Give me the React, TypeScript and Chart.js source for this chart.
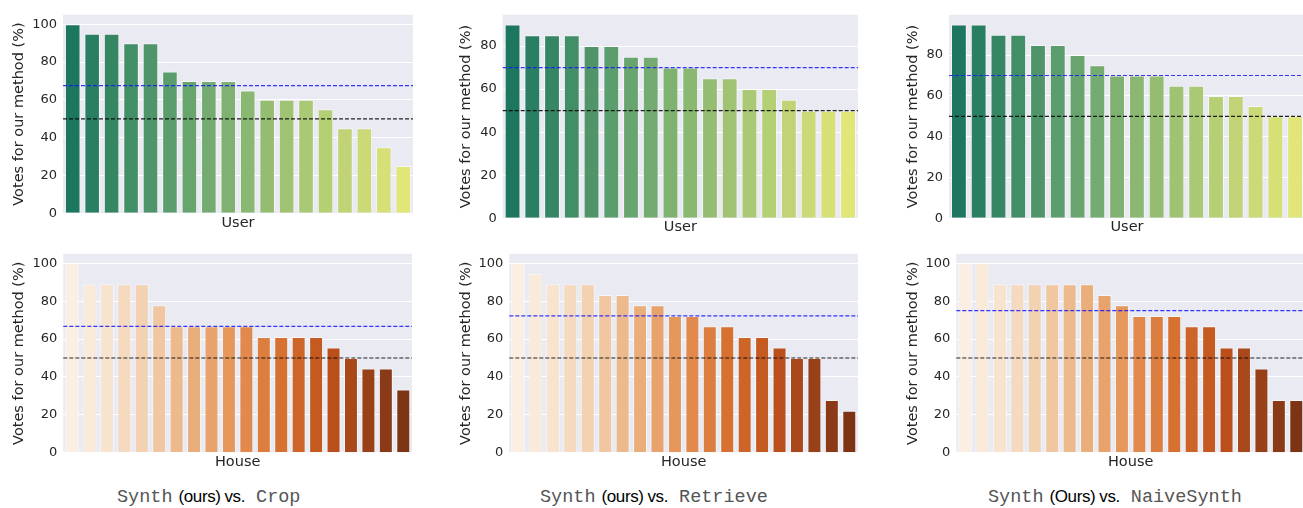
import React, { useEffect, useRef } from 'react';
import { Chart, registerables } from 'chart.js';

Chart.register(...registerables);

// ---------- data ----------
const userLabels = ['U1', 'U2', 'U3', 'U4', 'U5', 'U6', 'U7', 'U8', 'U9', 'U10', 'U11', 'U12', 'U13', 'U14', 'U15', 'U16', 'U17', 'U18'];
const houseLabels = ['H1', 'H2', 'H3', 'H4', 'H5', 'H6', 'H7', 'H8', 'H9', 'H10', 'H11', 'H12', 'H13', 'H14', 'H15', 'H16', 'H17', 'H18', 'H19', 'H20'];

const cropUser = [100, 95, 95, 90, 90, 75, 70, 70, 70, 65, 60, 60, 60, 55, 45, 45, 35, 25];
const retrieveUser = [90, 85, 85, 85, 80, 80, 75, 75, 70, 70, 65, 65, 60, 60, 55, 50, 50, 50];
const naiveUser = [95, 95, 90, 90, 85, 85, 80, 75, 70, 70, 70, 65, 65, 60, 60, 55, 50, 50];

const cropHouse = [100, 88.9, 88.9, 88.9, 88.9, 77.8, 66.7, 66.7, 66.7, 66.7, 66.7, 61.1, 61.1, 61.1, 61.1, 55.6, 50, 44.4, 44.4, 33.3];
const retrieveHouse = [100, 94.4, 88.9, 88.9, 88.9, 83.3, 83.3, 77.8, 77.8, 72.2, 72.2, 66.7, 66.7, 61.1, 61.1, 55.6, 50, 50, 27.8, 22.2];
const naiveHouse = [100, 100, 88.9, 88.9, 88.9, 88.9, 88.9, 88.9, 83.3, 77.8, 72.2, 72.2, 72.2, 66.7, 66.7, 55.6, 55.6, 44.4, 27.8, 27.8];

// median reference lines (blue) and chance line (black)
const medianValues = [67.5, 70, 70, 66.7, 72.2, 75];
const chanceValue = 50;

const yMaxValues = [105, 94.5, 99.75, 105, 105, 105];
const yTickValues = [0, 20, 40, 60, 80, 100];

const xTitles = ['User', 'User', 'User', 'House', 'House', 'House'];
const yTitle = 'Votes for our method (%)';

const captionMethods = ['Crop', 'Retrieve', 'NaiveSynth'];
const captionOurs = ['(ours)', '(ours)', '(Ours)'];

// ---------- colours ----------
const desat = (rgb: number[], prop: number) => {
  const mx = Math.max(...rgb);
  const mn = Math.min(...rgb);
  const l = (mx + mn) / 2;
  return rgb.map((c) => l + (c - l) * prop);
};
const toCss = (rgb: number[]) =>
  `rgb(${rgb.map((c) => Math.round(Math.max(0, Math.min(1, c)) * 255)).join(',')})`;

const summer = (t: number) => [t, 0.5 + 0.5 * t, 0.4];
const orangesStops = [
  [1.0, 0.9608, 0.9216],
  [0.9961, 0.902, 0.8078],
  [0.9922, 0.8157, 0.6353],
  [0.9922, 0.6824, 0.4196],
  [0.9922, 0.5529, 0.2353],
  [0.9451, 0.4118, 0.0745],
  [0.851, 0.2824, 0.0039],
  [0.651, 0.2118, 0.0118],
  [0.498, 0.1529, 0.0157],
];
const oranges = (t: number) => {
  const p = t * (orangesStops.length - 1);
  const i = Math.min(Math.floor(p), orangesStops.length - 2);
  const f = p - i;
  return orangesStops[i].map((c, k) => c + (orangesStops[i + 1][k] - c) * f);
};
const palette = (cmap: (t: number) => number[], n: number) => {
  const out: string[] = [];
  for (let i = 1; i <= n; i++) out.push(toCss(desat(cmap(i / (n + 1)), 0.75)));
  return out;
};

// ---------- layout (positions/sizes) ----------
const panelLayout = [
  { left: 11, top: 1, width: 402, height: 231, yW: 52, xH: 18.7 },
  { left: 458, top: 1, width: 400, height: 235, yW: 44.7, xH: 17.7 },
  { left: 905, top: 1, width: 400, height: 235, yW: 44, xH: 17.7 },
  { left: 11, top: 240, width: 401, height: 231, yW: 52.3, xH: 18.3 },
  { left: 458, top: 240, width: 400, height: 231, yW: 51.3, xH: 18.3 },
  { left: 905, top: 240, width: 400, height: 231, yW: 51.3, xH: 18.3 },
];
const captionLeft = [117, 540, 988];

const bgPlugin = {
  id: 'bgArea',
  beforeDraw(chart: any) {
    const { ctx, chartArea } = chart;
    ctx.save();
    ctx.fillStyle = '#EAEAF2';
    ctx.fillRect(chartArea.left, chartArea.top, chartArea.right - chartArea.left, chartArea.bottom - chartArea.top);
    ctx.restore();
  },
};

const refLinesPlugin = {
  id: 'refLines',
  afterDatasetsDraw(chart: any, _args: any, opts: any) {
    const { ctx, chartArea } = chart;
    const y = chart.scales.y;
    ctx.save();
    ctx.lineWidth = 1.2;
    ctx.setLineDash([4, 2]);
    for (const l of opts.lines || []) {
      const py = y.getPixelForValue(l.value);
      ctx.strokeStyle = l.color;
      ctx.beginPath();
      ctx.moveTo(chartArea.left, py);
      ctx.lineTo(chartArea.right, py);
      ctx.stroke();
    }
    ctx.restore();
  },
};

const TEXT = '#262626';

function Panel({ idx, labels, values, cmap }: { idx: number; labels: string[]; values: number[]; cmap: (t: number) => number[] }) {
  const ref = useRef<HTMLCanvasElement>(null);
  const lay = panelLayout[idx];
  useEffect(() => {
    if (!ref.current) return;
    const colors = palette(cmap, values.length);
    const yMax = yMaxValues[idx];
    const chart = new Chart(ref.current, {
      type: 'bar',
      data: {
        labels,
        datasets: [
          {
            data: values,
            backgroundColor: colors,
            borderColor: 'rgba(255,255,255,0.55)',
            borderWidth: 1,
            barPercentage: 0.8,
            categoryPercentage: 1.0,
          },
        ],
      },
      options: {
        animation: false,
        responsive: false,
        events: [],
        layout: { padding: { top: 10, left: 0, right: 0, bottom: 0 } },
        plugins: {
          legend: { display: false },
          tooltip: { enabled: false },
          refLines: {
            lines: [
              { value: medianValues[idx], color: 'rgba(20,20,255,0.85)' },
              { value: chanceValue, color: 'rgba(0,0,0,0.85)' },
            ],
          },
        } as any,
        scales: {
          x: {
            grid: { display: false },
            border: { display: false },
            ticks: { display: false },
            title: {
              display: true,
              text: xTitles[idx],
              color: TEXT,
              padding: 0,
              font: { family: 'DejaVu Sans', size: 14.5 },
            },
            afterFit: (s: any) => {
              s.height = lay.xH;
            },
          },
          y: {
            min: 0,
            max: yMax,
            afterBuildTicks: (s: any) => {
              s.ticks = yTickValues.filter((v) => v <= yMax).map((v) => ({ value: v }));
            },
            grid: { color: '#ffffff', lineWidth: 1, drawTicks: false },
            border: { display: false },
            ticks: {
              padding: 6,
              color: TEXT,
              font: { family: 'DejaVu Sans', size: 13 },
              callback: (v: any) => String(v),
            },
            title: {
              display: true,
              text: yTitle,
              color: TEXT,
              padding: 0,
              font: { family: 'DejaVu Sans', size: 14.5 },
            },
            afterFit: (s: any) => {
              s.width = lay.yW;
            },
          },
        },
      },
      plugins: [bgPlugin, refLinesPlugin],
    });
    return () => chart.destroy();
  }, []);
  return (
    <div style={{ position: 'absolute', left: lay.left, top: lay.top, width: lay.width, height: lay.height }}>
      <canvas ref={ref} width={lay.width} height={lay.height} style={{ width: lay.width, height: lay.height, display: 'block' }} />
    </div>
  );
}

function Caption({ i }: { i: number }) {
  const mono: React.CSSProperties = { fontFamily: '"Liberation Mono", monospace', fontSize: 18.5, color: '#555', lineHeight: '20px' };
  const sans: React.CSSProperties = { fontFamily: '"Liberation Sans", Arial, sans-serif', fontSize: 17, letterSpacing: -0.4, color: '#000', lineHeight: '20px' };
  return (
    <div style={{ position: 'absolute', left: captionLeft[i], top: 487, height: 20, display: 'flex', alignItems: 'baseline', whiteSpace: 'pre' }}>
      <span style={mono}>Synth</span>
      <span style={{ ...sans, marginLeft: 6 }}>{captionOurs[i]}</span>
      <span style={{ ...sans, marginLeft: 4 }}>vs.</span>
      <span style={{ ...mono, marginLeft: 11 }}>{captionMethods[i]}</span>
    </div>
  );
}

export default function App() {
  return (
    <div style={{ position: 'fixed', left: 0, top: 0, width: 1303, height: 508, background: '#fff', overflow: 'hidden' }}>
      <Panel idx={0} labels={userLabels} values={cropUser} cmap={summer} />
      <Panel idx={1} labels={userLabels} values={retrieveUser} cmap={summer} />
      <Panel idx={2} labels={userLabels} values={naiveUser} cmap={summer} />
      <Panel idx={3} labels={houseLabels} values={cropHouse} cmap={oranges} />
      <Panel idx={4} labels={houseLabels} values={retrieveHouse} cmap={oranges} />
      <Panel idx={5} labels={houseLabels} values={naiveHouse} cmap={oranges} />
      <Caption i={0} />
      <Caption i={1} />
      <Caption i={2} />
    </div>
  );
}
